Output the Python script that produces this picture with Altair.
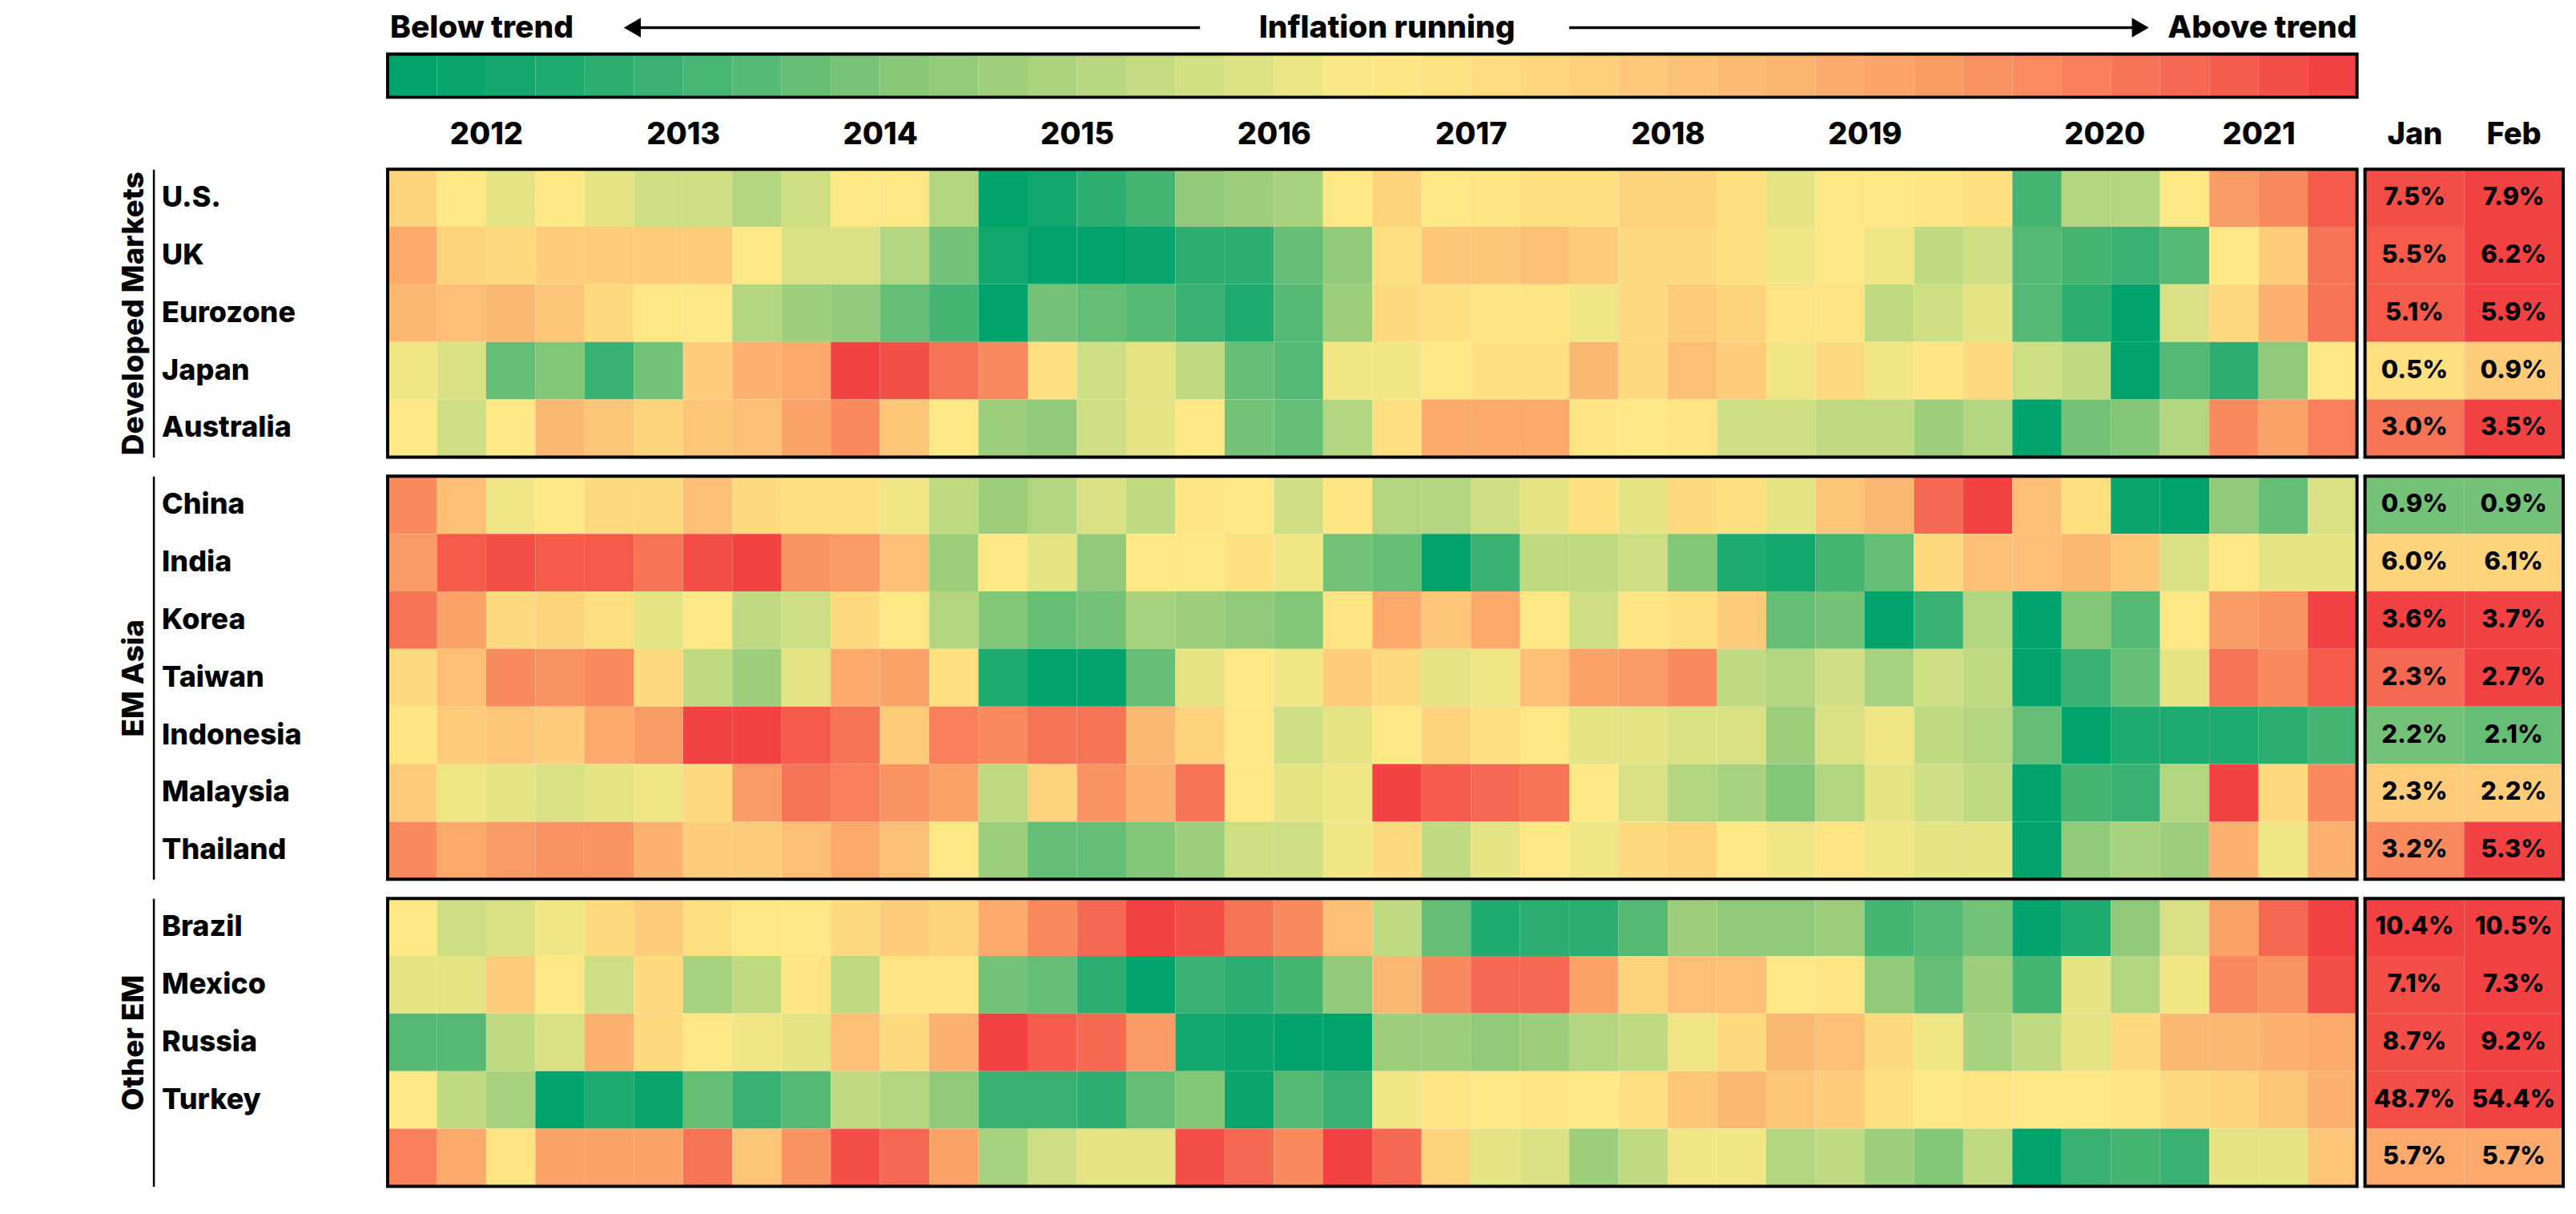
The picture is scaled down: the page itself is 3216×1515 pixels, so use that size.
import altair as alt
import pandas as pd

FONT = "Inter, Roboto, sans-serif"
WEIGHT = 800

# ---- data -------------------------------------------------------------
# cell colour level per quarter 2012Q1..2021Q4, 0 = far below trend, 10 = on trend, 20 = far above
years = [str(y) for y in range(2012, 2022)]
months = ["Jan", "Feb"]

developed = ["U.S.", "UK", "Eurozone", "Japan", "Australia"]
em_asia = ["China", "India", "Korea", "Taiwan", "Indonesia", "Malaysia", "Thailand"]
other_em = ["Brazil", "Mexico", "Russia", "Turkey", " "]

us = [12, 10, 9, 10, 9, 8, 8, 7, 8, 10, 10, 7, 0, 1, 2, 3, 5.5, 6, 6.5, 10,
      12, 10, 10.5, 11, 11, 12, 12, 11, 9, 10, 10, 10.5, 11, 3, 7, 7, 10, 16, 17, 19]
uk = [15, 12, 11.5, 12.5, 12.5, 12.5, 12.5, 10, 8.5, 8.5, 7, 4.5, 1, 0, 0, 0.5, 2, 2, 4, 5.5,
      11, 13, 13, 13.5, 12.5, 11.5, 11.5, 11, 9.5, 10, 9.5, 7.5, 8, 3.5, 3, 2.5, 3.5, 10, 12.5, 18]
eurozone = [14, 13.5, 14, 13, 11.5, 10, 10, 7, 6, 5.5, 4, 3, 0, 4.5, 4, 3.5, 2.5, 1.5, 3.5, 6,
            11.5, 11, 10.5, 10.5, 9.5, 11.5, 12.5, 12, 10.5, 10.5, 7.5, 8, 9, 3.5, 2, 0, 8.5, 11.5, 14.5, 18]
japan = [9.5, 8.5, 4, 5, 2.5, 4.5, 12.5, 14.5, 15, 20, 19.5, 18, 17, 11, 8, 9, 7.5, 4, 3.5, 9.5,
         9.5, 10, 11, 11, 14, 11.5, 13.5, 12.5, 9.5, 11.5, 9.5, 10.5, 11.5, 8, 7.5, 0, 3.5, 2, 5.5, 10]
australia = [10, 8, 10, 14, 13, 12, 13, 13.5, 15.5, 17, 13, 10, 6, 5.5, 8, 9, 10, 4.5, 4, 7,
             11, 15, 15, 15, 10.5, 10, 10.5, 8, 8, 7.5, 7.5, 6, 7, 0, 4.5, 5, 7, 17, 15.5, 17.5]

china = [17, 13.5, 9.5, 10, 11.5, 11.5, 13.5, 11.5, 11, 11, 9.5, 7.5, 6, 7, 8.5, 7.5, 10.5, 10, 8, 10.5,
         7, 7, 8, 9, 11, 9, 11.5, 11, 9, 13, 14, 18.5, 20, 13.5, 11, 0.5, 0, 5.5, 4, 8.5]
india = [16, 19, 19.5, 19, 19, 18, 19.5, 20, 16.5, 16, 13.5, 6, 10, 9, 5.5, 10, 10, 11, 9.5, 4.5,
         4, 0, 2.5, 7.5, 7.5, 8, 5, 1.5, 1, 3, 4, 11.5, 13.5, 13.5, 14, 13, 8.5, 10, 9, 9]
korea = [18, 15.5, 11.5, 12, 11, 9, 10, 7.5, 8, 11.5, 10, 7, 5, 4, 4.5, 6.5, 6, 5.5, 5, 10.5,
         15, 13, 15, 10, 8, 10.5, 11, 12.5, 4, 4.5, 0, 2.5, 7, 0, 5, 3.5, 10, 16, 16.5, 20]
taiwan = [11.5, 13.5, 17, 16.5, 17, 11.5, 7.5, 6, 9, 15, 15.5, 11, 1.5, 0, 0, 4, 9, 10, 9.5, 12.5,
          11.5, 9, 9.5, 13.5, 15.5, 16, 17, 7.5, 7, 8, 6.5, 8, 7.5, 0, 2.5, 4, 9, 18, 17, 19]
indonesia = [10.5, 12.5, 13, 12.5, 15, 16, 20, 20, 19, 18, 12.5, 17.5, 17, 18, 18, 14, 12, 10, 8, 9,
             10, 12, 11, 10, 9, 9, 8.5, 8.5, 6, 8.5, 9.5, 7.5, 7, 4, 0, 1.5, 1.5, 1.5, 2, 3]
malaysia = [12.5, 9.5, 9, 8.5, 9, 9.5, 11.5, 16, 18, 17.5, 16.5, 15.5, 7.5, 12, 16.5, 14.5, 18, 10, 9, 9.5,
            20, 19, 18.5, 18, 10, 8.5, 7, 6.5, 5, 7, 9, 8, 7.5, 0, 3, 2.5, 7, 20, 11.5, 17]
thailand = [17, 15, 16, 16.5, 16.5, 14.5, 12.5, 12.5, 13.5, 15, 13.5, 10, 6, 4, 4, 5, 6, 8, 8, 9.5,
            11.5, 7.5, 9, 10, 9.5, 11.5, 12, 10, 9.5, 10.5, 9.5, 9, 9, 0, 5.5, 6.5, 6, 14.5, 9.5, 14.5]

brazil = [10, 8, 8.5, 9.5, 11.5, 12.5, 11, 10, 10, 11.5, 12.5, 12, 15, 17, 18.5, 20, 19.5, 18, 17, 13.5,
          7.5, 4, 1.5, 2, 2, 3.5, 6, 5.5, 5.5, 6, 3, 3.5, 4.5, 0, 1.5, 5.5, 8.5, 15.5, 18.5, 20]
mexico = [9, 9, 12.5, 10, 8, 11.5, 6.5, 7.5, 10.5, 7.5, 10.5, 10.5, 4.5, 4, 2, 0, 2.5, 2, 3, 5.5,
          14, 17, 18.5, 18.5, 15.5, 12, 13.5, 13.5, 10, 10.5, 5.5, 4, 6, 3, 9, 7, 9.5, 17, 16.5, 19.5]
russia = [3.5, 3.5, 7.5, 8.5, 14.5, 11.5, 10, 9.5, 9, 13.5, 11.5, 14.5, 20, 19, 18.5, 16, 1, 0.5, 0, 0,
          6, 6, 5.5, 6, 7, 7.5, 9.5, 11.5, 14, 13.5, 11.5, 9.5, 6.5, 7.5, 9, 11.5, 14, 14, 14.5, 15]
turkey = [10, 7.5, 6.5, 0, 1.5, 0.5, 4, 2.5, 3.5, 7.5, 7, 5.5, 2.5, 2.5, 2, 4, 5, 0.5, 3.5, 2.5,
          9.5, 10.5, 10, 10.5, 10, 11, 13, 14, 13, 12.5, 11, 10, 10.5, 10, 10, 10.5, 11.5, 12, 13, 14.5]
unlabeled = [17.5, 15, 10.5, 15.5, 15.5, 15.5, 18, 13, 16.5, 19.5, 18.5, 15.5, 6.5, 8, 9, 9, 19.5, 18.5, 17, 20,
             18.5, 12, 9, 8.5, 6, 7.5, 9.5, 9.5, 7, 7.5, 6, 5, 7.5, 0, 2.5, 3, 2.5, 9, 9, 13]

heat = {
    "U.S.": us, "UK": uk, "Eurozone": eurozone, "Japan": japan, "Australia": australia,
    "China": china, "India": india, "Korea": korea, "Taiwan": taiwan, "Indonesia": indonesia,
    "Malaysia": malaysia, "Thailand": thailand,
    "Brazil": brazil, "Mexico": mexico, "Russia": russia, "Turkey": turkey, " ": unlabeled,
}

# latest readings (Jan, Feb): printed value and colour level
jan_text = ["7.5%", "5.5%", "5.1%", "0.5%", "3.0%",
            "0.9%", "6.0%", "3.6%", "2.3%", "2.2%", "2.3%", "3.2%",
            "10.4%", "7.1%", "8.7%", "48.7%", "5.7%"]
feb_text = ["7.9%", "6.2%", "5.9%", "0.9%", "3.5%",
            "0.9%", "6.1%", "3.7%", "2.7%", "2.1%", "2.2%", "5.3%",
            "10.5%", "7.3%", "9.2%", "54.4%", "5.7%"]
jan_level = [19.5, 19, 19, 11, 18, 4.5, 12, 20, 18.5, 4.5, 12.5, 17, 20, 19.5, 19.5, 19.5, 15]
feb_level = [20, 20, 20, 12.5, 20, 4.5, 12, 20, 20, 4, 12.5, 20, 20, 20, 20, 20, 15]

# ---- tables -----------------------------------------------------------
heat_df = pd.DataFrame(
    [{"country": c, "q": i, "q2": i + 1, "v": v} for c, vals in heat.items() for i, v in enumerate(vals)]
)
all_countries = developed + em_asia + other_em
latest_df = pd.DataFrame(
    [{"country": c, "k": 0, "v": jan_level[n], "label": jan_text[n]} for n, c in enumerate(all_countries)]
    + [{"country": c, "k": 1, "v": feb_level[n], "label": feb_text[n]} for n, c in enumerate(all_countries)]
)
ramp = [i * 20 / 39 for i in range(40)]
legend_df = pd.DataFrame({"q": list(range(40)), "q2": list(range(1, 41)), "v": ramp})

# ---- layout constants (in quarter-column units on the x scale) -------
palette = ["#00A36C", "#12A76D", "#2CAE70", "#45B473", "#64BE75", "#84C678", "#9CCE7B",
           "#B3D57F", "#CDDE83", "#E4E485", "#FEE886", "#FEE080", "#FDD37C", "#FDC578",
           "#FBB872", "#FBAA6C", "#F99B64", "#F98A5E", "#F67456", "#F45B4B", "#F24244"]
cscale = alt.Scale(domain=list(range(21)), range=palette, interpolate="rgb")
COL_W = 61.6
ROW_H = 72
GAP = 10 / COL_W
CELL = 124 / COL_W
R0 = 40 + GAP
XMAX = R0 + 2 * CELL
WIDTH = XMAX * COL_W

year_ticks = [2 + 4 * i for i in range(10)]
year_ticks[8] = 34.87  # 2020 label sits right of its centre in the original
month_ticks = [R0 + CELL / 2, R0 + 1.5 * CELL]

frame_df = pd.DataFrame({"x": [0, R0], "x2": [40, XMAX]})


def xscale():
    return alt.Scale(domain=[0, XMAX], nice=False, zero=False)


def band():
    return alt.Scale(paddingInner=0, paddingOuter=0)


top_axis = alt.Axis(
    orient="top", values=year_ticks + month_ticks,
    labelExpr=f"datum.value > 40 ? {months}[datum.value < {R0 + CELL} ? 0 : 1] : {years}[round((datum.value - 2) / 4)]",
    ticks=False, domain=False, grid=False, labelPadding=43, labelBaseline="middle", labelAngle=0,
    labelFont=FONT, labelFontSize=38, labelFontWeight=WEIGHT, labelColor="black", title=None,
)


def header_layers(xax):
    def X(f):
        return alt.X(f, scale=xscale(), axis=xax)

    bar_y, bar_y2, head_y = alt.value(-144), alt.value(-90), alt.value(-177)
    ramp_bar = alt.Chart(legend_df).mark_rect().encode(
        x=X("q:Q"), x2="q2:Q", y=bar_y, y2=bar_y2,
        color=alt.Color("v:Q", scale=cscale, legend=None),
    )
    ramp_frame = alt.Chart(pd.DataFrame({"x": [0], "x2": [40]})).mark_rect(
        filled=False, color="black", strokeWidth=4).encode(x=X("x:Q"), x2="x2:Q", y=bar_y, y2=bar_y2)
    txt = dict(font=FONT, fontSize=39, fontWeight=WEIGHT, color="black", baseline="middle")
    below = alt.Chart(pd.DataFrame({"x": [0.05], "t": ["Below trend"]})).mark_text(
        align="left", **txt).encode(x=X("x:Q"), y=head_y, text="t:N")
    middle = alt.Chart(pd.DataFrame({"x": [20.3], "t": ["Inflation running"]})).mark_text(
        align="center", **txt).encode(x=X("x:Q"), y=head_y, text="t:N")
    above = alt.Chart(pd.DataFrame({"x": [40], "t": ["Above trend"]})).mark_text(
        align="right", **txt).encode(x=X("x:Q"), y=head_y, text="t:N")
    shafts = alt.Chart(pd.DataFrame({"x": [4.97, 24.0], "x2": [16.5, 35.6]})).mark_rule(
        color="black", strokeWidth=3.5).encode(x=X("x:Q"), x2="x2:Q", y=head_y)
    heads = alt.Chart(pd.DataFrame({"x": [4.97, 35.6], "shape": ["triangle-left", "triangle-right"]})).mark_point(
        filled=True, size=600, color="black", opacity=1).encode(
        x=X("x:Q"), y=head_y, shape=alt.Shape("shape:N", scale=None))
    return [ramp_bar, ramp_frame, shafts, heads, below, middle, above]


def row_chart(group, names, first=False):
    h = ROW_H * len(names)
    xax = top_axis if first else None

    def X(f):
        return alt.X(f, scale=xscale(), axis=xax)

    yax = alt.Axis(title=group, orient="left", offset=293, ticks=False, grid=False,
                   domain=True, domainColor="black", domainWidth=2.5,
                   labelAlign="left", labelBaseline="middle", labelPadding=-10, labelLimit=400,
                   labelFont=FONT, labelFontSize=36, labelFontWeight=WEIGHT, labelColor="black",
                   titleFont=FONT, titleFontSize=37, titleFontWeight=WEIGHT, titleColor="black",
                   titleAngle=270, titleX=-24, titleY=h / 2, titleAlign="center", titleBaseline="middle")
    Y = alt.Y("country:N", sort=names, scale=band(), axis=yax)

    cells = alt.Chart(heat_df[heat_df["country"].isin(names)]).mark_rect().encode(
        x=X("q:Q"), x2="q2:Q", y=Y,
        color=alt.Color("v:Q", scale=cscale, legend=None),
    )
    latest = alt.Chart(latest_df[latest_df["country"].isin(names)]).transform_calculate(
        m0=f"{R0} + datum.k * {CELL}",
        m1=f"{R0} + (datum.k + 1) * {CELL}",
        mc=f"{R0} + (datum.k + 0.5) * {CELL}",
    )
    latest_cells = latest.mark_rect().encode(
        x=X("m0:Q"), x2="m1:Q", y=Y,
        color=alt.Color("v:Q", scale=cscale, legend=None),
    )
    latest_text = latest.mark_text(font=FONT, fontSize=31, fontWeight=WEIGHT, color="black").encode(
        x=X("mc:Q"), y=Y, text="label:N")
    frames = alt.Chart(frame_df).mark_rect(filled=False, color="black", strokeWidth=4).encode(
        x=X("x:Q"), x2="x2:Q")

    layers = [cells, latest_cells, latest_text, frames]
    if first:
        layers = header_layers(xax) + layers
    return alt.layer(*layers).properties(width=WIDTH, height=h)


chart = alt.vconcat(
    row_chart("Developed Markets", developed, first=True),
    row_chart("EM Asia", em_asia),
    row_chart("Other EM", other_em),
    spacing=18,
).resolve_scale(y="independent").properties(
    padding={"left": 140, "top": 5, "right": 5, "bottom": 5}
).configure_view(stroke=None).configure(font=FONT)

chart.save("out.html", embed_options={"renderer": "svg", "actions": False})
